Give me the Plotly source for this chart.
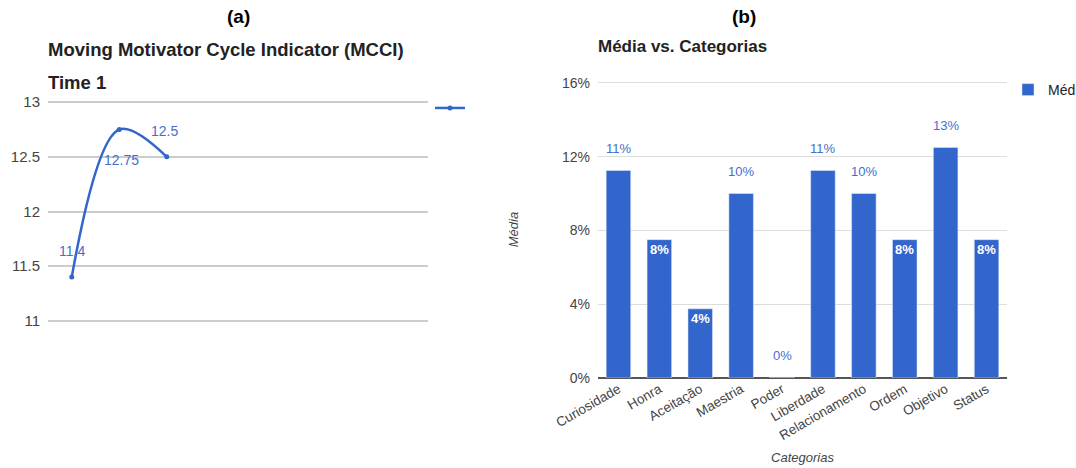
import plotly.graph_objects as go

# ---- data (a) ----
time_points = [1, 2, 3]
mcci_values = [11.4, 12.75, 12.5]
mcci_labels = ["11.4", "12.75", "12.5"]
left_ticks = [11, 11.5, 12, 12.5, 13]
left_ticktext = ["11", "11.5", "12", "12.5", "13"]

# ---- data (b) ----
categories = ["Curiosidade", "Honra", "Aceitação", "Maestria", "Poder",
              "Liberdade", "Relacionamento", "Ordem", "Objetivo", "Status"]
media_values = [11.25, 7.5, 3.75, 10.0, 0.05, 11.25, 10.0, 7.5, 12.5, 7.5]
media_labels = ["11%", "8%", "4%", "10%", "0%", "11%", "10%", "8%", "13%", "8%"]
right_ticks = [0, 4, 8, 12, 16]
right_ticktext = ["0%", "4%", "8%", "12%", "16%"]

BLUE = "#3366cc"
LBLUE = "#4470cc"
FONT = "Liberation Sans, Arial"
W, H = 1076, 468

def px_x(p):
    return p / W

def px_y(p):
    return 1 - p / H

fig = go.Figure()

fig.add_trace(go.Scatter(
    x=time_points, y=mcci_values, mode="lines+markers",
    line=dict(color=BLUE, width=2.5, shape="spline", smoothing=1.0),
    marker=dict(color=BLUE, size=5),
    name="", showlegend=True, legend="legend",
    xaxis="x", yaxis="y",
))

fig.add_trace(go.Bar(
    x=categories, y=media_values, marker=dict(color=BLUE),
    width=0.6, name="Média", showlegend=True, legend="legend2",
    xaxis="x2", yaxis="y2",
))

annotations = []
# point labels (a)
label_shift = [26, -30, 26]
label_xshift = [0, 2, -2]
for xv, yv, t, s, xs in zip(time_points, mcci_values, mcci_labels, label_shift, label_xshift):
    annotations.append(dict(x=xv, y=yv, xref="x", yref="y", text=t,
                            showarrow=False, yshift=s, xshift=xs,
                            font=dict(family=FONT, size=14, color=LBLUE)))
# bar labels (b)
for c, v, t in zip(categories, media_values, media_labels):
    if v >= 9 or v < 1:
        annotations.append(dict(x=c, y=v, xref="x2", yref="y2", text=t,
                                showarrow=False, yshift=22,
                                font=dict(family=FONT, size=13, color=LBLUE)))
    else:
        annotations.append(dict(x=c, y=v, xref="x2", yref="y2", text="<b>" + t + "</b>",
                                showarrow=False, yshift=-10,
                                font=dict(family=FONT, size=13, color="white")))

# headings and titles
def head(xp, yp, text, size, anchor="center", color="#222"):
    return dict(x=px_x(xp), y=px_y(yp), xref="paper", yref="paper",
                xanchor=anchor, yanchor="middle", text=text, showarrow=False,
                font=dict(family=FONT, size=size, color=color))

annotations += [
    head(238, 17, "<b>(a)</b>", 19, color="black"),
    head(744, 17, "<b>(b)</b>", 19, color="black"),
    head(46, 50, "<b>Moving Motivator Cycle Indicator (MCCI)</b>", 18.5, "left"),
    head(46, 82, "<b>Time 1</b>", 18.5, "left"),
    head(596, 47, "<b>Média vs. Categorias</b>", 17, "left"),
]

fig.update_layout(
    width=W, height=H,
    margin=dict(l=0, r=0, t=0, b=0, autoexpand=False),
    paper_bgcolor="white", plot_bgcolor="white",
    font=dict(family=FONT, color="#444"),
    annotations=annotations,
    xaxis=dict(domain=[px_x(48), px_x(428)], range=[0.5, 8.5], automargin=False,
               showticklabels=False, showgrid=False, zeroline=False,
               showline=False, ticks=""),
    yaxis=dict(domain=[px_y(323), px_y(100)], range=[10.98, 13.02], automargin=False,
               tickvals=left_ticks, ticktext=left_ticktext,
               showgrid=True, gridcolor="#cccccc", gridwidth=1.5,
               zeroline=False, showline=False, ticks="",
               tickfont=dict(family=FONT, size=15, color="#444"), ticklabelstandoff=7),
    xaxis2=dict(domain=[px_x(598), px_x(1007)], anchor="y2", automargin=False,
                tickangle=-30, showgrid=False, zeroline=False,
                showline=False, ticks="",
                tickfont=dict(family=FONT, size=13.5, color="#444"),
                title=dict(text="<i>Categorias</i>", standoff=10,
                           font=dict(family=FONT, size=13, color="#444"))),
    yaxis2=dict(domain=[px_y(378), px_y(81)], anchor="x2", range=[0, 16.1], automargin=False,
                tickvals=right_ticks, ticktext=right_ticktext,
                showgrid=True, gridcolor="#dddddd", gridwidth=1,
                zeroline=True, zerolinecolor="#555", zerolinewidth=1.5,
                showline=False, ticks="",
                tickfont=dict(family=FONT, size=14, color="#444"), ticklabelstandoff=7,
                title=dict(text="<i>Média</i>", standoff=40,
                           font=dict(family=FONT, size=13, color="#444"))),
    legend=dict(x=px_x(430), y=px_y(108), xanchor="left", yanchor="middle",
                bgcolor="rgba(0,0,0,0)", font=dict(size=13), itemwidth=30),
    legend2=dict(x=px_x(1008), y=px_y(90), xanchor="left", yanchor="middle",
                 bgcolor="rgba(0,0,0,0)", font=dict(family=FONT, size=14, color="#222")),
)

fig.write_html("out.html")
